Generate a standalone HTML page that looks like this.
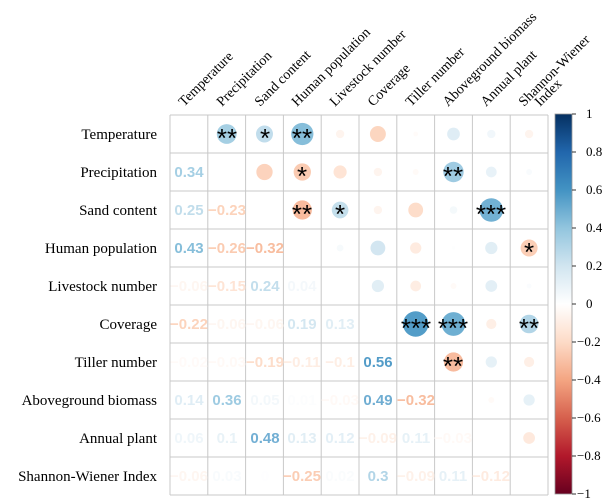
<!DOCTYPE html>
<html><head><meta charset="utf-8"><style>
html,body{margin:0;padding:0;background:#fff;}
svg{display:block;}
.rl{font-family:"Liberation Serif",serif;font-size:15px;fill:#000;text-anchor:end;}
.cl{font-family:"Liberation Serif",serif;font-size:14px;fill:#000;}
.n{font-family:"Liberation Sans",sans-serif;font-size:15px;font-weight:bold;text-anchor:middle;}
.st{font-family:"Liberation Sans",sans-serif;font-size:26px;fill:#000;text-anchor:middle;}
.cb{font-family:"Liberation Serif",serif;font-size:13px;fill:#000;}
</style></head><body>
<svg id="s" width="613" height="502" viewBox="0 0 613 502" xmlns="http://www.w3.org/2000/svg">
<defs><linearGradient id="g" x1="0" y1="0" x2="0" y2="1">
<stop offset="0" stop-color="#053061"/><stop offset="0.1" stop-color="#2166AC"/><stop offset="0.2" stop-color="#4393C3"/><stop offset="0.3" stop-color="#92C5DE"/><stop offset="0.4" stop-color="#D1E5F0"/><stop offset="0.5" stop-color="#FFFFFF"/><stop offset="0.6" stop-color="#FDDBC7"/><stop offset="0.7" stop-color="#F4A582"/><stop offset="0.8" stop-color="#D6604D"/><stop offset="0.9" stop-color="#B2182B"/><stop offset="1" stop-color="#67001F"/></linearGradient></defs>
<g id="circ"></g>
<g id="grid" stroke="#C8C8C8" stroke-width="1"></g>
<!-- row labels -->
<text class="rl" x="157" y="139">Temperature</text>
<text class="rl" x="157" y="177">Precipitation</text>
<text class="rl" x="157" y="215">Sand content</text>
<text class="rl" x="157" y="253">Human population</text>
<text class="rl" x="157" y="291">Livestock number</text>
<text class="rl" x="157" y="329">Coverage</text>
<text class="rl" x="157" y="367">Tiller number</text>
<text class="rl" x="157" y="405">Aboveground biomass</text>
<text class="rl" x="157" y="443">Annual plant</text>
<text class="rl" x="157" y="481">Shannon-Wiener Index</text>
<!-- column labels -->
<text class="cl" transform="translate(184,107) rotate(-45)">Temperature</text>
<text class="cl" transform="translate(222,107) rotate(-45)">Precipitation</text>
<text class="cl" transform="translate(260,107) rotate(-45)">Sand content</text>
<text class="cl" transform="translate(297,107) rotate(-45)">Human population</text>
<text class="cl" transform="translate(335,107) rotate(-45)">Livestock number</text>
<text class="cl" transform="translate(373,107) rotate(-45)">Coverage</text>
<text class="cl" transform="translate(411,107) rotate(-45)">Tiller number</text>
<text class="cl" transform="translate(448,107) rotate(-45)">Aboveground biomass</text>
<text class="cl" transform="translate(486,107) rotate(-45)">Annual plant</text>
<text class="cl" transform="translate(524,107) rotate(-45)">Shannon-Wiener</text>
<text class="cl" transform="translate(540,107) rotate(-45)">Index</text>
<!-- numbers: col x = 189 + 37.8j, row y = 139 + 38i -->
<g class="n">
<text x="189" y="177" fill="#A5CFE4">0.34</text>
<text x="189" y="215" fill="#C1DDEB">0.25</text>
<text x="227" y="215" fill="#FCD3BB">−0.23</text>
<text x="189" y="253" fill="#86BEDA">0.43</text>
<text x="227" y="253" fill="#FBCBB1">−0.26</text>
<text x="265" y="253" fill="#F8BD9F">−0.32</text>
<text x="189" y="291" fill="#FEF6F1">−0.06</text>
<text x="227" y="291" fill="#FEE4D5">−0.15</text>
<text x="265" y="291" fill="#C3DEEC">0.24</text>
<text x="302" y="291" fill="#F4F8FB">0.04</text>
<text x="189" y="329" fill="#FCD4BD">−0.22</text>
<text x="227" y="329" fill="#FEF6F1">−0.06</text>
<text x="265" y="329" fill="#FEF6F1">−0.06</text>
<text x="302" y="329" fill="#D4E7F1">0.19</text>
<text x="340" y="329" fill="#E1EEF5">0.13</text>
<text x="189" y="367" fill="#FFFAF8">−0.02</text>
<text x="227" y="367" fill="#FFF9F6">−0.03</text>
<text x="265" y="367" fill="#FDDDCA">−0.19</text>
<text x="302" y="367" fill="#FEEDE3">−0.11</text>
<text x="340" y="367" fill="#FEEEE4">−0.1</text>
<text x="378" y="367" fill="#539CC8">0.56</text>
<text x="189" y="405" fill="#DFEDF5">0.14</text>
<text x="227" y="405" fill="#9ECBE2">0.36</text>
<text x="265" y="405" fill="#F3F8FB">0.05</text>
<text x="302" y="405" fill="#FCFDFE">0.01</text>
<text x="340" y="405" fill="#FFF9F6">−0.03</text>
<text x="378" y="405" fill="#6FADD2">0.49</text>
<text x="416" y="405" fill="#F8BD9F">−0.32</text>
<text x="189" y="443" fill="#EFF6FA">0.06</text>
<text x="227" y="443" fill="#E8F2F7">0.1</text>
<text x="265" y="443" fill="#72AFD4">0.48</text>
<text x="302" y="443" fill="#E1EEF5">0.13</text>
<text x="340" y="443" fill="#E3EFF6">0.12</text>
<text x="378" y="443" fill="#FEF1E9">−0.09</text>
<text x="416" y="443" fill="#E6F1F7">0.11</text>
<text x="453" y="443" fill="#FFF9F6">−0.03</text>
<text x="189" y="481" fill="#FEF6F1">−0.06</text>
<text x="227" y="481" fill="#F8FBFD">0.03</text>
<text x="265" y="481" fill="#FEFEFF">0</text>
<text x="302" y="481" fill="#FBCDB4">−0.25</text>
<text x="340" y="481" fill="#FAFCFD">0.02</text>
<text x="378" y="481" fill="#B2D5E7">0.3</text>
<text x="416" y="481" fill="#FEF1E9">−0.09</text>
<text x="453" y="481" fill="#E6F1F7">0.11</text>
<text x="491" y="481" fill="#FEEBE0">−0.12</text>
</g>
<!-- stars -->
<g class="st">
<text x="227" y="147">**</text>
<text x="265" y="147">*</text>
<text x="302" y="147">**</text>
<text x="302" y="185">*</text>
<text x="453" y="185">**</text>
<text x="302" y="223">**</text>
<text x="340" y="223">*</text>
<text x="491" y="223">***</text>
<text x="529" y="261">*</text>
<text x="416" y="337">***</text>
<text x="453" y="337">***</text>
<text x="529" y="337">**</text>
<text x="453" y="375">**</text>
</g>
<!-- colorbar -->
<rect x="555" y="114" width="17" height="380" fill="url(#g)" stroke="#999" stroke-width="0.8"/>
<g stroke="#333" stroke-width="1">
<line x1="572" y1="114" x2="576" y2="114"/><line x1="572" y1="152" x2="576" y2="152"/><line x1="572" y1="190" x2="576" y2="190"/><line x1="572" y1="228" x2="576" y2="228"/><line x1="572" y1="266" x2="576" y2="266"/><line x1="572" y1="304" x2="576" y2="304"/><line x1="572" y1="342" x2="576" y2="342"/><line x1="572" y1="380" x2="576" y2="380"/><line x1="572" y1="418" x2="576" y2="418"/><line x1="572" y1="456" x2="576" y2="456"/><line x1="572" y1="494" x2="576" y2="494"/>
</g>
<g class="cb">
<text x="586" y="118">1</text><text x="586" y="156">0.8</text><text x="586" y="194">0.6</text><text x="586" y="232">0.4</text><text x="586" y="270">0.2</text><text x="586" y="308">0</text>
<text x="577" y="346">−0.2</text><text x="577" y="384">−0.4</text><text x="577" y="422">−0.6</text><text x="577" y="460">−0.8</text><text x="577" y="498">−1</text>
</g>
</svg>
<script>
(function(){
var N=10,x0=170,y0=115,cw=37.8,ch=38;
var L=[[],[.34],[.25,-.23],[.43,-.26,-.32],[-.06,-.15,.24,.04],[-.22,-.06,-.06,.19,.13],[-.02,-.03,-.19,-.11,-.1,.56],[.14,.36,.05,.01,-.03,.49,-.32],[.06,.1,.48,.13,.12,-.09,.11,-.03],[-.06,.03,0,-.25,.02,.3,-.09,.11,-.12]];
var P=[[-1,"#67001F"],[-.8,"#B2182B"],[-.6,"#D6604D"],[-.4,"#F4A582"],[-.2,"#FDDBC7"],[0,"#FFFFFF"],[.2,"#D1E5F0"],[.4,"#92C5DE"],[.6,"#4393C3"],[.8,"#2166AC"],[1,"#053061"]];
function h(s){return [parseInt(s.substr(1,2),16),parseInt(s.substr(3,2),16),parseInt(s.substr(5,2),16)];}
function col(r){for(var k=0;k<P.length-1;k++){if(r<=P[k+1][0]){var t=(r-P[k][0])/(P[k+1][0]-P[k][0]);var a=h(P[k][1]),b=h(P[k+1][1]);return "rgb("+[0,1,2].map(function(i){return Math.round(a[i]+(b[i]-a[i])*t)}).join(",")+")";}}return P[10][1];}
var ns="http://www.w3.org/2000/svg",g=document.getElementById("circ"),gr=document.getElementById("grid");
for(var i=0;i<N;i++)for(var j=i+1;j<N;j++){var r=L[j][i];if(Math.abs(r)<0.005)continue;var c=document.createElementNS(ns,"circle");c.setAttribute("cx",x0+cw*(j+.5));c.setAttribute("cy",y0+ch*(i+.5));c.setAttribute("r",17*Math.sqrt(Math.abs(r)));c.setAttribute("fill",col(r));g.appendChild(c);}
for(var k=0;k<=N;k++){var l=document.createElementNS(ns,"line");l.setAttribute("x1",x0+cw*k);l.setAttribute("x2",x0+cw*k);l.setAttribute("y1",y0);l.setAttribute("y2",y0+ch*N);gr.appendChild(l);
var m=document.createElementNS(ns,"line");m.setAttribute("y1",y0+ch*k);m.setAttribute("y2",y0+ch*k);m.setAttribute("x1",x0);m.setAttribute("x2",x0+cw*N);gr.appendChild(m);}
})();
</script>
</body></html>
